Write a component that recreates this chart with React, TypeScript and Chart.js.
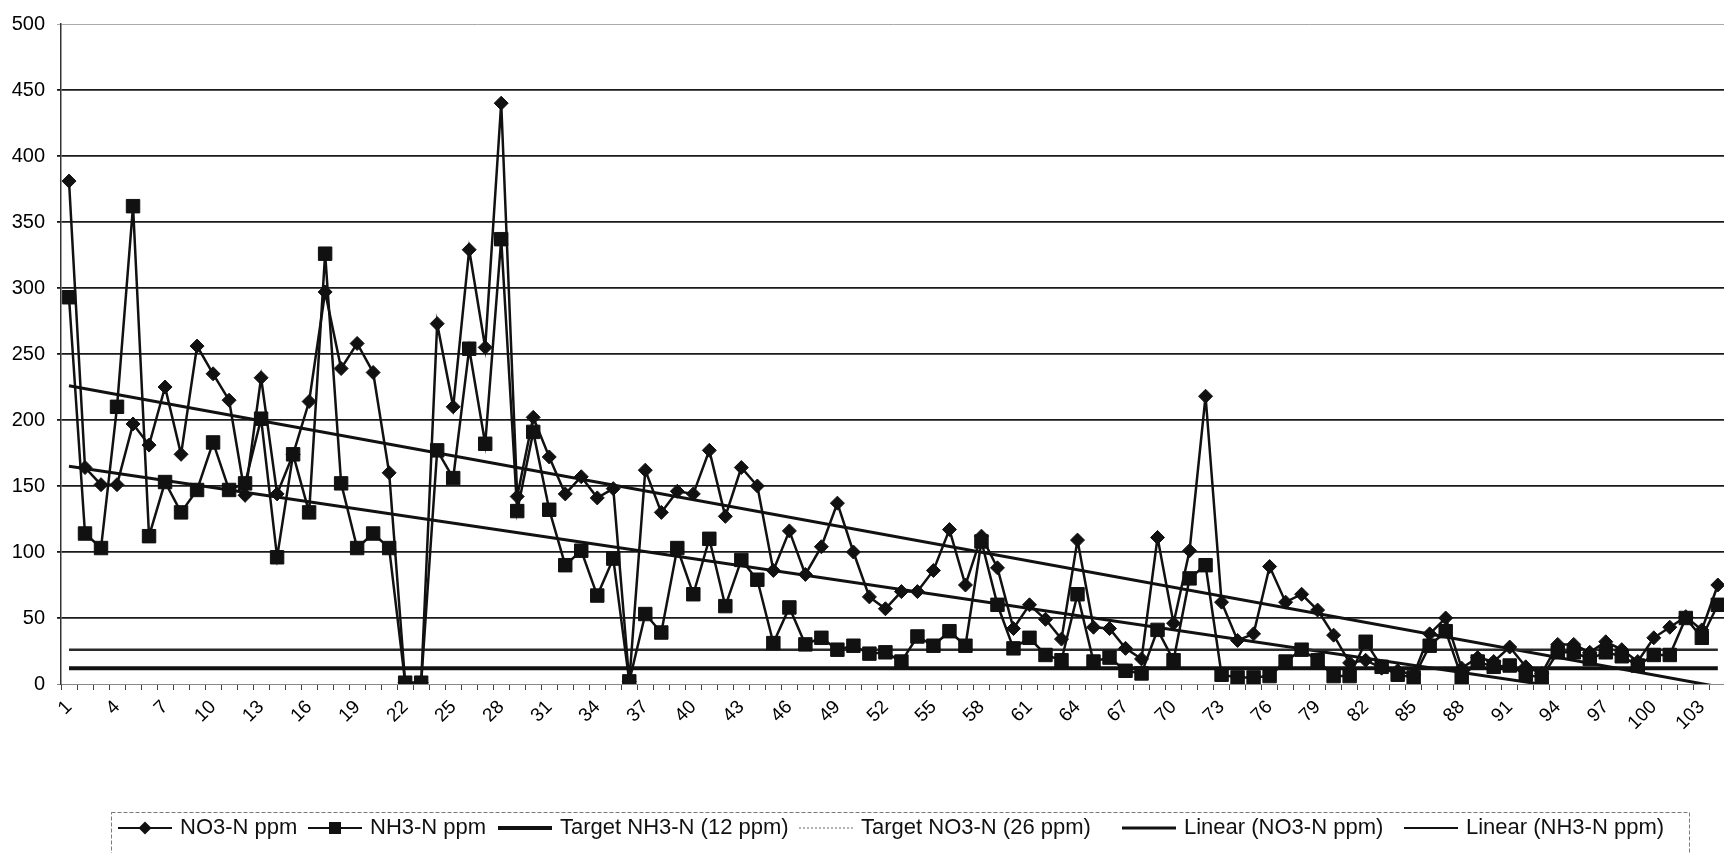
import React, { useEffect, useRef } from "react";
import { Chart, registerables } from "chart.js";

Chart.register(...registerables);

// NO3-N ppm, one value per sample (1..104)
const no3 = [
  381, 164, 151, 151, 197, 181, 225, 174, 256, 235,
  215, 143, 232, 144, 174, 214, 297, 239, 258, 236,
  160, 1, 1, 273, 210, 329, 255, 440, 142, 202,
  172, 144, 157, 141, 148, 2, 162, 130, 146, 144,
  177, 127, 164, 150, 86, 116, 83, 104, 137, 100,
  66, 57, 70, 70, 86, 117, 75, 112, 88, 42,
  60, 49, 34, 109, 43, 42, 27, 19, 111, 46,
  101, 218, 62, 33, 38, 89, 62, 68, 56, 37,
  16, 18, 12, 10, 7, 38, 50, 12, 20, 17,
  28, 13, 8, 30, 30, 24, 32, 26, 17, 35,
  43, 51, 41, 75,
];

// NH3-N ppm
const nh3 = [
  293, 114, 103, 210, 362, 112, 153, 130, 147, 183,
  147, 152, 201, 96, 174, 130, 326, 152, 103, 114,
  103, 1, 1, 177, 156, 254, 182, 337, 131, 191,
  132, 90, 101, 67, 95, 2, 53, 39, 103, 68,
  110, 59, 94, 79, 31, 58, 30, 35, 26, 29,
  23, 24, 17, 36, 29, 40, 29, 108, 60, 27,
  35, 22, 18, 68, 17, 20, 10, 8, 41, 18,
  80, 90, 7, 5, 5, 6, 17, 26, 18, 6,
  6, 32, 13, 7, 5, 29, 40, 5, 17, 13,
  14, 7, 5, 24, 24, 19, 24, 21, 14, 22,
  22, 50, 35, 60,
];

const categories = no3.map((_, i) => String(i + 1));

const targetNH3 = 12;
const targetNO3 = 26;
// linear trend values at first and last category
const trendNO3 = [226, -2];
const trendNH3 = [165, -20];

const yMin = 0;
const yMax = 500;
const yStep = 50;

const legendLabels = [
  "NO3-N ppm",
  "NH3-N ppm",
  "Target NH3-N (12 ppm)",
  "Target NO3-N (26 ppm)",
  "Linear (NO3-N ppm)",
  "Linear (NH3-N ppm)",
];

const FONT = '"Liberation Sans", Arial, sans-serif';

const constant = (v: number) => categories.map(() => v);
const endpoints = (pair: number[]) =>
  categories.map((_, i) => (i === 0 ? pair[0] : i === categories.length - 1 ? pair[1] : null));

const legendPlugin = {
  id: "boxLegend",
  afterDraw(chart: any) {
    const ctx = chart.ctx as CanvasRenderingContext2D;
    ctx.save();
    ctx.strokeStyle = "#7a7a7a";
    ctx.lineWidth = 1;
    ctx.setLineDash([4, 2]);
    ctx.strokeRect(111.5, 812.5, 1578, 70);
    ctx.setLineDash([]);
    const textX = [180, 370, 560, 861, 1184, 1466];
    const cy = 828;
    ctx.font = `22px ${FONT}`;
    ctx.textBaseline = "middle";
    ctx.textAlign = "left";
    legendLabels.forEach((label, i) => {
      const x1 = textX[i] - 62;
      const x2 = textX[i] - 8;
      ctx.save();
      ctx.beginPath();
      if (i === 3) {
        ctx.strokeStyle = "#9a9a9a";
        ctx.lineWidth = 1.5;
        ctx.setLineDash([2, 2]);
      } else {
        ctx.strokeStyle = "#111";
        ctx.lineWidth = i === 2 ? 4 : i === 4 ? 3 : 2;
      }
      ctx.moveTo(x1, cy);
      ctx.lineTo(x2, cy);
      ctx.stroke();
      ctx.setLineDash([]);
      const mx = (x1 + x2) / 2;
      ctx.fillStyle = "#111";
      if (i === 0) {
        ctx.beginPath();
        ctx.moveTo(mx - 6.5, cy);
        ctx.lineTo(mx, cy - 6.5);
        ctx.lineTo(mx + 6.5, cy);
        ctx.lineTo(mx, cy + 6.5);
        ctx.closePath();
        ctx.fill();
      } else if (i === 1) {
        ctx.fillRect(mx - 6, cy - 6, 12, 12);
      }
      ctx.restore();
      ctx.fillStyle = "#111";
      ctx.fillText(label, textX[i], cy);
    });
    ctx.restore();
  },
};

export default function App() {
  const ref = useRef<HTMLCanvasElement | null>(null);

  useEffect(() => {
    if (!ref.current) return;
    const chart = new Chart(ref.current, {
      type: "line",
      data: {
        labels: categories,
        datasets: [
          {
            label: legendLabels[0],
            data: no3,
            borderColor: "#111",
            borderWidth: 2.5,
            pointStyle: "rectRot",
            pointRadius: 7,
            pointBackgroundColor: "#111",
            pointBorderColor: "#111",
            pointBorderWidth: 1,
            tension: 0,
          },
          {
            label: legendLabels[1],
            data: nh3,
            borderColor: "#111",
            borderWidth: 2.5,
            pointStyle: "rect",
            pointRadius: 9.5,
            pointBackgroundColor: "#111",
            pointBorderColor: "#111",
            pointBorderWidth: 1,
            tension: 0,
          },
          {
            label: legendLabels[2],
            data: constant(targetNH3),
            borderColor: "#111",
            borderWidth: 4,
            pointRadius: 0,
          },
          {
            label: legendLabels[3],
            data: constant(targetNO3),
            borderColor: "#2a2a2a",
            borderWidth: 2.5,
            pointRadius: 0,
          },
          {
            label: legendLabels[4],
            data: endpoints(trendNO3),
            borderColor: "#111",
            borderWidth: 3,
            pointRadius: 0,
            spanGaps: true,
          },
          {
            label: legendLabels[5],
            data: endpoints(trendNH3),
            borderColor: "#111",
            borderWidth: 3,
            pointRadius: 0,
            spanGaps: true,
          },
        ],
      },
      options: {
        responsive: false,
        animation: false,
        devicePixelRatio: 1,
        layout: { padding: { top: 16, right: 12, left: 0, bottom: 0 } },
        plugins: {
          legend: { display: false },
          tooltip: { enabled: false },
        },
        scales: {
          x: {
            offset: true,
            grid: {
              offset: true,
              drawOnChartArea: false,
              drawTicks: true,
              tickLength: 6,
              color: "#444",
              lineWidth: 1,
            },
            border: { color: "#888", width: 1 },
            ticks: {
              autoSkip: false,
              maxRotation: 45,
              minRotation: 45,
              padding: 6,
              color: "#000",
              font: { family: FONT, size: 19 },
              callback: (_v: any, i: number) => (i % 3 === 0 ? categories[i] : ""),
            },
            afterFit: (s: any) => {
              s.height = 186;
            },
          },
          y: {
            min: yMin,
            max: yMax,
            ticks: {
              stepSize: yStep,
              padding: 12,
              color: "#000",
              font: { family: FONT, size: 20 },
            },
            grid: {
              color: (c: any) =>
                c.tick && c.tick.value === yMax ? "#aaa" : c.tick && c.tick.value === 0 ? "#888" : "#1a1a1a",
              lineWidth: (c: any) => (c.tick && (c.tick.value === yMax || c.tick.value === 0) ? 1 : 1.8),
              tickLength: 4,
            },
            border: { color: "#333", width: 1.5 },
            afterFit: (s: any) => {
              s.width = 61;
            },
          },
        },
      },
      plugins: [legendPlugin],
    });
    return () => chart.destroy();
  }, []);

  return (
    <div
      style={{
        position: "fixed",
        left: 0,
        top: 0,
        width: 1724,
        height: 853,
        overflow: "hidden",
        background: "#fff",
      }}
    >
      <canvas ref={ref} width={1740} height={870} style={{ display: "block" }} />
    </div>
  );
}
